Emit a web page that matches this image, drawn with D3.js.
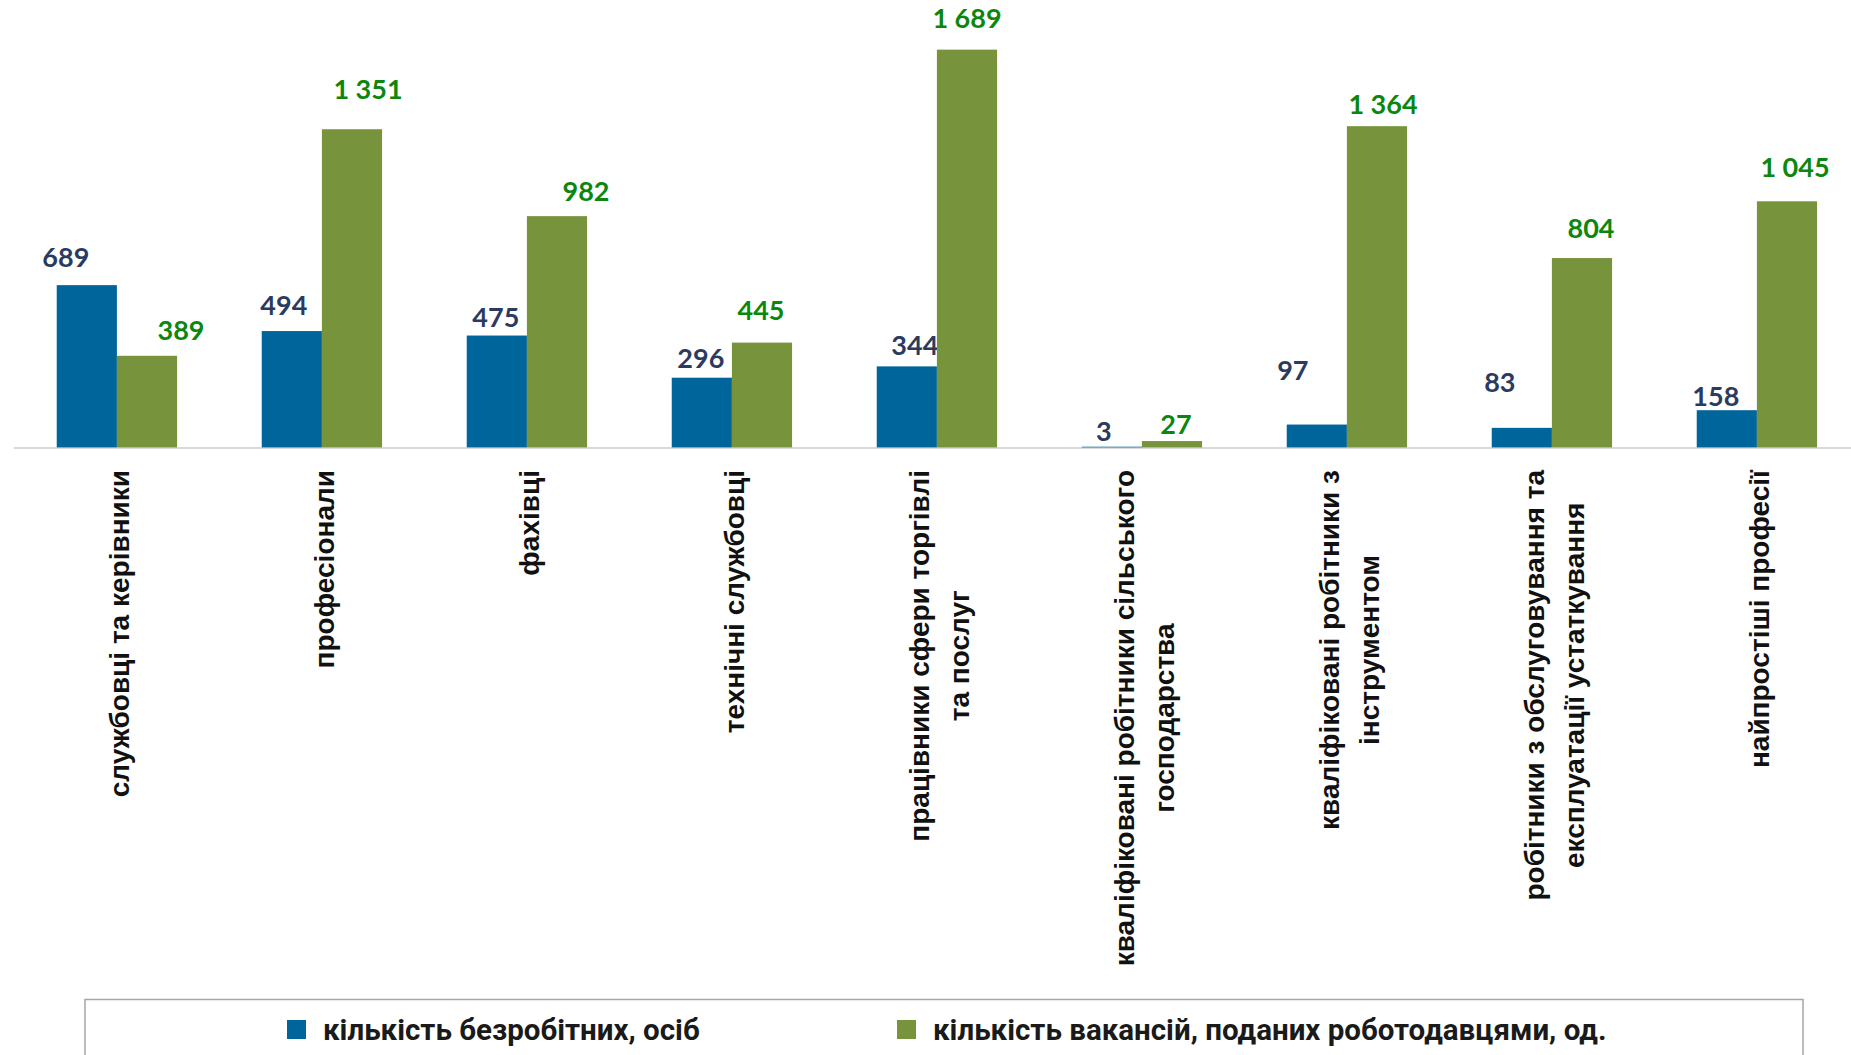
<!DOCTYPE html>
<html>
<head>
<meta charset="utf-8">
<script src="https://cdn.jsdelivr.net/npm/d3@7"></script>
<style>
  body { margin: 0; background: #fff; }
  svg { display: block; }
  .cat { font-family: "Liberation Sans", Arial, sans-serif; font-weight: bold; font-size: 28px; fill: #111; }
  .val { font-family: Lato, Roboto, sans-serif; font-weight: bold; font-size: 27px; }
  .leg { font-family: Roboto, "Noto Sans", sans-serif; font-weight: bold; font-size: 29.5px; fill: #1a1a1a; }
</style>
</head>
<body>
<div id="chart"></div>
<script>
// data
var categories = [
  "службовці та керівники",
  "професіонали",
  "фахівці",
  "технічні службовці",
  "працівники сфери торгівлі\nта послуг",
  "кваліфіковані робітники сільського\nгосподарства",
  "кваліфіковані робітники з\nінструментом",
  "робітники з обслуговування та\nексплуатації устаткування",
  "найпростіші професії"
];
var unemployed = [689, 494, 475, 296, 344, 3, 97, 83, 158];
var vacancies = [389, 1351, 982, 445, 1689, 27, 1364, 804, 1045];
var seriesNames = ["кількість безробітних, осіб", "кількість вакансій, поданих роботодавцями, од."];

// label nudges (px), the labels were moved by hand in the original
var blueDx = [-21, -8, -1, -1, 8, -8, -24, -22, -11];
var blueRise = [28, 26, 18, 19, 21, 15, 54, 46, 14];
var greenDx = [34, 16, 29, -1, 0, 4, 6, 9, 8];
var greenRise = [26, 40, 25, 32, 31, 17, 22, 30, 34];

var W = 1851, H = 1055;
var colors = ["#00659a", "#77933c"];
var labelColors = ["#2b3b5f", "#0b870e"];

var svg = d3.select("#chart").append("svg")
  .attr("width", W).attr("height", H);

var x = d3.scaleBand()
  .domain(d3.range(categories.length))
  .range([14.4, 1859.4])
  .paddingInner(0.413)
  .paddingOuter(0.2065);
var x1 = d3.scaleBand().domain([0, 1]).range([0, x.bandwidth()]);
var y = d3.scaleLinear().domain([0, 1800]).range([447.4, 23.5]);

// axis line
svg.append("line")
  .attr("x1", 14).attr("x2", W)
  .attr("y1", y(0) + 0.5).attr("y2", y(0) + 0.5)
  .attr("stroke", "#d9d9d9").attr("stroke-width", 2);

var series = [unemployed, vacancies];
var dxs = [blueDx, greenDx], rises = [blueRise, greenRise];

series.forEach(function(vals, s) {
  svg.append("g").selectAll("rect")
    .data(vals)
    .join("rect")
    .attr("x", function(d, i) { return x(i) + x1(s); })
    .attr("y", function(d) { return y(d); })
    .attr("width", x1.bandwidth())
    .attr("height", function(d) { return y(0) - y(d); })
    .attr("fill", colors[s]);

  svg.append("g").selectAll("text")
    .data(vals)
    .join("text")
    .attr("class", "val")
    .attr("fill", labelColors[s])
    .attr("text-anchor", "middle")
    .attr("x", function(d, i) { return x(i) + x1(s) + x1.bandwidth() / 2 + dxs[s][i]; })
    .attr("y", function(d, i) { return y(d) - rises[s][i]; })
    .attr("dy", "0.36em")
    .text(function(d) { return d3.format(",")(d).replace(/,/g, " "); });
});

// category labels, rotated, top-aligned below the axis
var lineH = 40, labTop = 470;
categories.forEach(function(c, i) {
  var lines = c.split("\n");
  var g = svg.append("g")
    .attr("transform", "translate(" + (x(i) + x.bandwidth() / 2) + "," + labTop + ") rotate(-90)");
  var ts = lines.map(function(l, k) {
    return g.append("text")
      .attr("class", "cat")
      .attr("text-anchor", "middle")
      .attr("y", (k - (lines.length - 1) / 2) * lineH)
      .attr("dy", "0.42em")
      .text(l);
  });
  var maxLen = d3.max(ts, function(t) { return t.node().getComputedTextLength(); });
  ts.forEach(function(t) { t.attr("x", -maxLen / 2); });
});

// legend
svg.append("rect")
  .attr("x", 85).attr("y", 999.5)
  .attr("width", 1718).attr("height", 120)
  .attr("fill", "none").attr("stroke", "#a6a6a6").attr("stroke-width", 1.5);

var legX = [287, 897];
seriesNames.forEach(function(n, s) {
  svg.append("rect")
    .attr("x", legX[s]).attr("y", 1020)
    .attr("width", 19).attr("height", 19)
    .attr("fill", colors[s]);
  svg.append("text")
    .attr("class", "leg")
    .attr("x", legX[s] + 36).attr("y", 1029.5)
    .attr("dy", "0.36em")
    .text(n);
});
</script>
</body>
</html>
